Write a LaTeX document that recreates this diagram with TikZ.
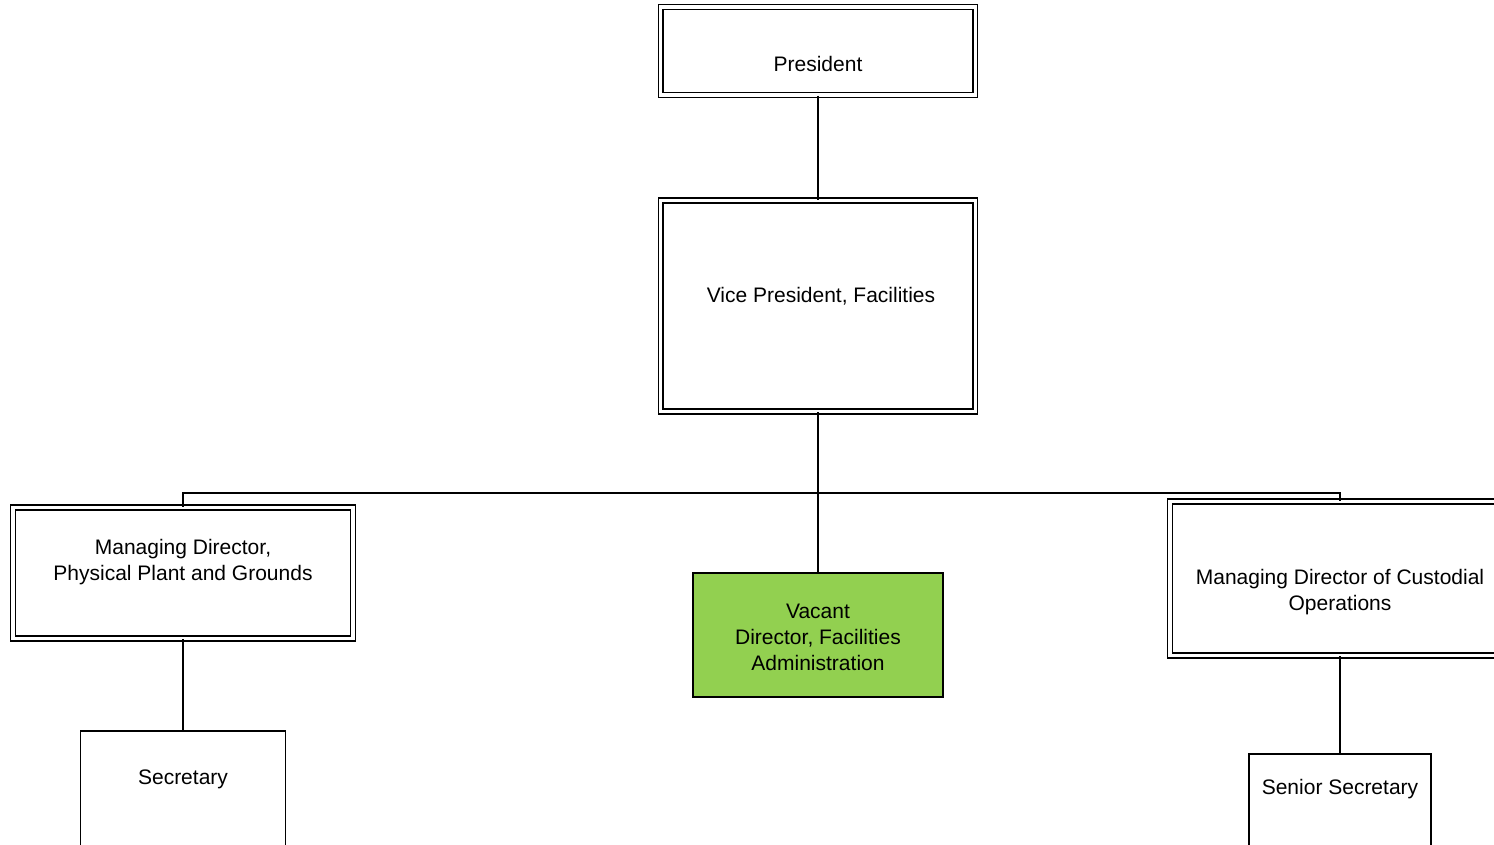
\documentclass[tikz,border=0pt]{standalone}
\usepackage{fontspec}
\setmainfont{Liberation Sans}

\begin{document}
\begin{tikzpicture}
	[x=0.5pt, y=-0.5pt, line width=0.85pt,
	dbox/.style={rectangle,draw,double,double distance=1.7pt,line width=0.75pt,inner sep=0pt},
	sbox/.style={rectangle,draw,line width=0.75pt,inner sep=0pt},
	txt/.style={align=center,inner sep=0pt,font=\fontsize{10.5}{13}\selectfont}]
	\useasboundingbox (0,0) rectangle (1494,845);
	% boxes
	\node (pres) [dbox,minimum width=157.25pt,minimum height=44pt] at (818,51) {};
	\node (vp) [dbox,minimum width=157.25pt,minimum height=105.5pt] at (818,306) {};
	\node (mdl) [dbox,minimum width=170pt,minimum height=65.5pt] at (183,573) {};
	\node (vac) [sbox,fill={rgb,255:red,146;green,208;blue,80},minimum width=125pt,minimum height=62pt] at (818,635) {};
	\node (mdr) [dbox,minimum width=170pt,minimum height=77pt] at (1340,578.5) {};
	\node (sec) [sbox,minimum width=102.5pt,minimum height=70pt] at (183,801) {};
	\node (ssec) [sbox,minimum width=91pt,minimum height=70pt] at (1340,824) {};
	% texts
	\node (presT) [txt] at (818,64) {President};
	\node (vpT) [txt] at (821,296) {Vice President, Facilities};
	\node (mdlT) [txt] at (183,562.5) {Managing Director,\\Physical Plant and Grounds};
	\node (vacT) [txt] at (818,637) {Vacant\\Director, Facilities\\Administration};
	\node (mdrT) [txt] at (1340,592.5) {Managing Director of Custodial\\Operations};
	\node (secT) [txt] at (183,779) {Secretary};
	\node (ssecT) [txt] at (1340,789.5) {Senior Secretary};
	% lines
	\coordinate (bus) at (818,493);
	\draw (pres) -- (vp);
	\draw (vp) -- (vac);
	\draw (mdl.north) |- (bus) -| (mdr.north);
	\draw (mdl) -- (sec);
	\draw (mdr) -- (ssec);
\end{tikzpicture}
\end{document}
